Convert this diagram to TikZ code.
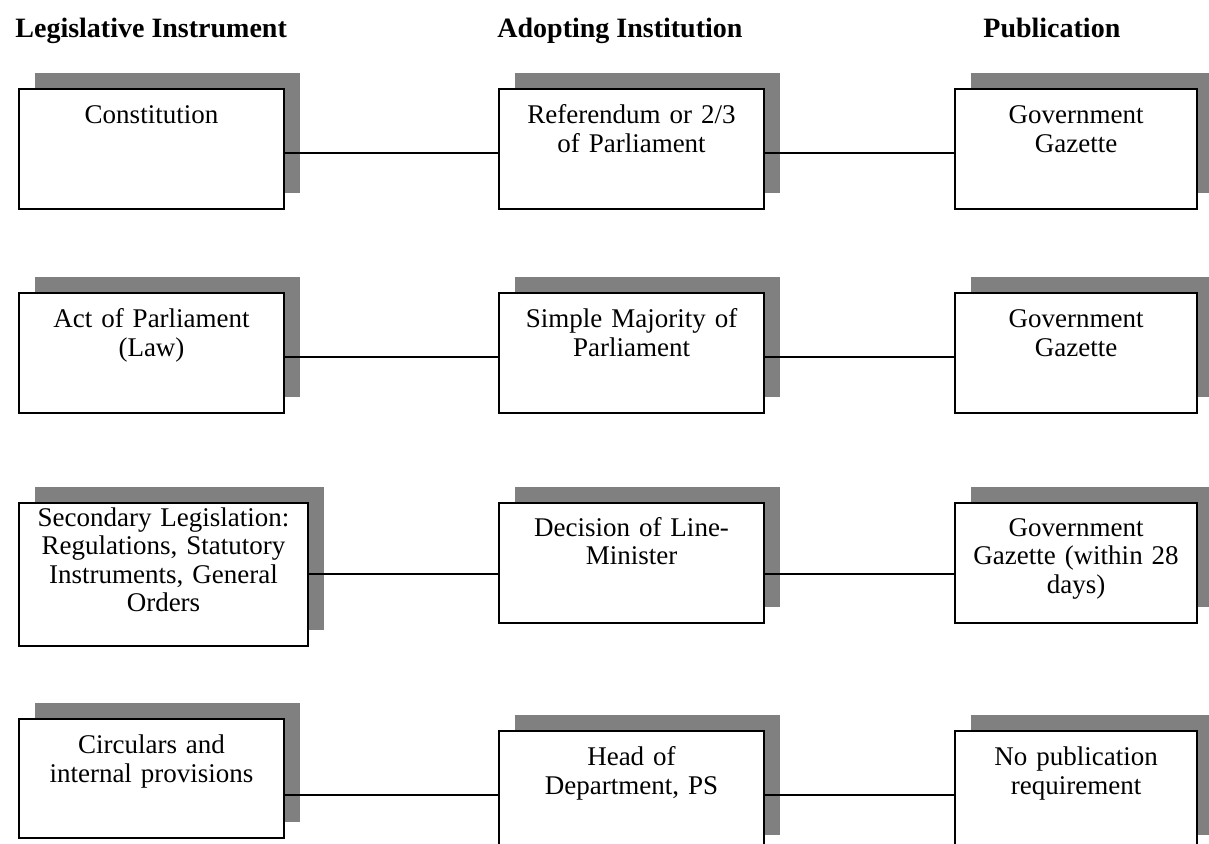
\documentclass[tikz,border=0pt]{standalone}
\usepackage{fontspec}
\setmainfont{Liberation Serif}
\usetikzlibrary{shadows}

\begin{document}
\begin{tikzpicture}[x=0.5pt, y=-0.5pt]
        \tikzstyle{heading} = [anchor=base west, inner sep=0pt, font=\fontsize{14}{15}\selectfont\bfseries]
        \tikzstyle{cell} = [rectangle, anchor=north west, inner sep=0pt, align=center, draw=black, line width=1pt, fill=white, font=\fontsize{13.5}{14.25}\selectfont, text height=17.25pt, text depth=42.75pt, drop shadow={shadow xshift=8pt, shadow yshift=8pt, fill=black!50, opacity=1}]
        \tikzstyle{narrow} = [text width=121pt]
        \tikzstyle{wide} = [text width=132.5pt]
        \tikzstyle{link} = [line width=0.75pt]

        \useasboundingbox (0,0) rectangle (1209,843);
        \clip (0,0) rectangle (1209,843);

        \node (hinstr) [heading] at (15,37) {Legislative Instrument};
        \node (hinst) [heading] at (497,37) {Adopting Institution};
        \node (hpub) [heading] at (983,37) {Publication};

        \node (const) [cell, wide] at (18,88) {Constitution};
        \node (refer) [cell, wide] at (498,88) {Referendum or 2/3\\of Parliament};
        \node (gaz1) [cell, narrow] at (954,88) {Government\\Gazette};

        \node (act) [cell, wide] at (18,292) {Act of Parliament\\(Law)};
        \node (simple) [cell, wide] at (498,292) {Simple Majority of\\Parliament};
        \node (gaz2) [cell, narrow] at (954,292) {Government\\Gazette};

        \node (second) [cell, text width=144.5pt, text height=11.5pt, text depth=60pt] at (18,502) {Secondary Legislation:\\Regulations, Statutory\\Instruments, General\\Orders};
        \node (minister) [cell, wide, text height=16.5pt, text depth=43.5pt] at (498,502) {Decision of Line-\\Minister};
        \node (gaz3) [cell, narrow, text height=16.5pt, text depth=43.5pt] at (954,502) {Government\\Gazette (within 28\\days)};

        \node (circ) [cell, wide, text depth=42.25pt] at (18,718) {Circulars and\\internal provisions};
        \node (head) [cell, wide] at (498,730) {Head of\\Department, PS};
        \node (nopub) [cell, narrow] at (954,730) {No publication\\requirement};

        \draw [link] (const.east |- 0,153) -- (refer.west |- 0,153);
        \draw [link] (refer.east |- 0,153) -- (gaz1.west |- 0,153);
        \draw [link] (act.east |- 0,357) -- (simple.west |- 0,357);
        \draw [link] (simple.east |- 0,357) -- (gaz2.west |- 0,357);
        \draw [link] (second.east |- 0,574) -- (minister.west |- 0,574);
        \draw [link] (minister.east |- 0,574) -- (gaz3.west |- 0,574);
        \draw [link] (circ.east |- 0,795) -- (head.west |- 0,795);
        \draw [link] (head.east |- 0,795) -- (nopub.west |- 0,795);
    \end{tikzpicture}
\end{document}
